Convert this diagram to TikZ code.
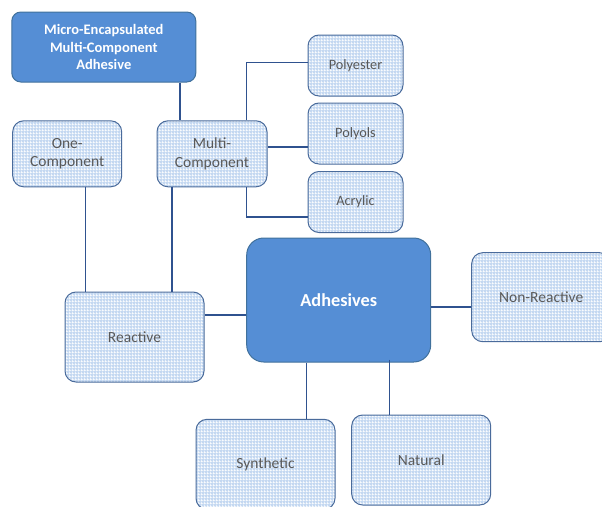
\documentclass[tikz,border=0pt]{standalone}
\usepackage{fontspec}
\setmainfont{Carlito}
\usepackage{tikz}
\usetikzlibrary{positioning}
\usetikzlibrary{patterns}
\definecolor{darkfill}{HTML}{558ED5}
\definecolor{darkedge}{HTML}{41719C}
\definecolor{lightfill}{HTML}{C4D8F1}
\definecolor{lightedge}{HTML}{4A6B9B}
\definecolor{linkblue}{HTML}{2F528F}
\definecolor{textgray}{HTML}{595959}
\pgfdeclarepatternformonly{finegrid}{\pgfpointorigin}{\pgfqpoint{3pt}{3pt}}{\pgfqpoint{3pt}{3pt}}{
  \pgfpathrectangle{\pgfpointorigin}{\pgfqpoint{3pt}{0.7pt}}
  \pgfpathrectangle{\pgfpointorigin}{\pgfqpoint{0.7pt}{3pt}}
  \pgfusepath{fill}}
\tikzstyle{darkbox}=[rectangle,rounded corners=9pt,fill=darkfill,draw=darkedge,line width=1pt,text=white,align=center,inner sep=0pt]
\tikzstyle{lightbox}=[rectangle,rounded corners=11pt,preaction={fill=lightfill},pattern=finegrid,pattern color=white,draw=lightedge,line width=1pt,text=textgray,align=center,inner sep=0pt]
\tikzstyle{link} = [draw=linkblue,line width=1.2pt]
\tikzstyle{heavylink} = [draw=linkblue,line width=2pt]

\begin{document}
\begin{tikzpicture}[x=1pt,y=-1pt]
    \useasboundingbox (0,0) rectangle (602,506);

    % the two dark boxes
    \node[darkbox,minimum width=184pt,minimum height=70pt,font=\fontsize{14.5}{17.5}\selectfont\bfseries] (micro) at (103.8,47) {Micro-Encapsulated\\Multi-Component\\Adhesive};
    \node[darkbox,rounded corners=17pt,minimum width=184pt,minimum height=124pt,font=\fontsize{18.3}{22}\selectfont\bfseries] (adhesives) at (338.7,300) {Adhesives};

    % small boxes on the right of Multi-Component
    \foreach \pos/\name/\txt in {{(355.5,65.5)/polyester/Polyester}, {(355.5,133.5)/polyols/Polyols}, {(355.5,202)/acrylic/Acrylic}}
        \node[lightbox,minimum width=95pt,minimum height=61pt,font=\fontsize{14.3}{17}\selectfont] (\name) at \pos {\txt};

    % the other light boxes
    \foreach \pos/\name/\bw/\bh/\txt in {{(67.2,153.8)/one/109/66/{One-\\Component}}, {(212,153.8)/multi/110/66/{Multi-\\Component}}, {(134.5,337)/reactive/139/90/Reactive}, {(541.2,297.2)/nonreactive/139/89/Non-Reactive}, {(265.5,464.3)/synthetic/139/90/Synthetic}, {(421.2,460)/natural/139/90/Natural}}
        \node[lightbox,minimum width=\bw pt,minimum height=\bh pt,font=\fontsize{15.5}{18.5}\selectfont] (\name) at \pos {\txt};

    % connectors
    \draw[heavylink] ([xshift=76pt]micro.south) -- ([xshift=76pt]micro.south |- multi.north);
    \draw[link] ([xshift=34.7pt]multi.north) |- ([yshift=3pt]polyester.west);
    \draw[heavylink] ([yshift=7pt]multi.east) -- ([yshift=7pt]multi.east -| polyols.west);
    \draw[link] ([xshift=34.7pt]multi.south) |- ([yshift=-15pt]acrylic.west);
    \draw[link] ([xshift=18.5pt]one.south) -- ([xshift=18.5pt]one.south |- reactive.north);
    \draw[heavylink] ([xshift=-39.7pt]multi.south) -- ([xshift=-39.7pt]multi.south |- reactive.north);
    \draw[link] ([yshift=22pt]reactive.east) -- ([yshift=22pt]reactive.east -| adhesives.west);
    \draw[heavylink] ([yshift=-6.7pt]adhesives.east) -- ([yshift=-6.7pt]adhesives.east -| nonreactive.west);
    \draw[link] ([xshift=-32pt]adhesives.south) -- ([xshift=-32pt]adhesives.south |- synthetic.north);
    \draw[link] ([xshift=50.6pt,yshift=3pt]adhesives.south) -- ([xshift=50.6pt]adhesives.south |- natural.north);
\end{tikzpicture}
\end{document}
